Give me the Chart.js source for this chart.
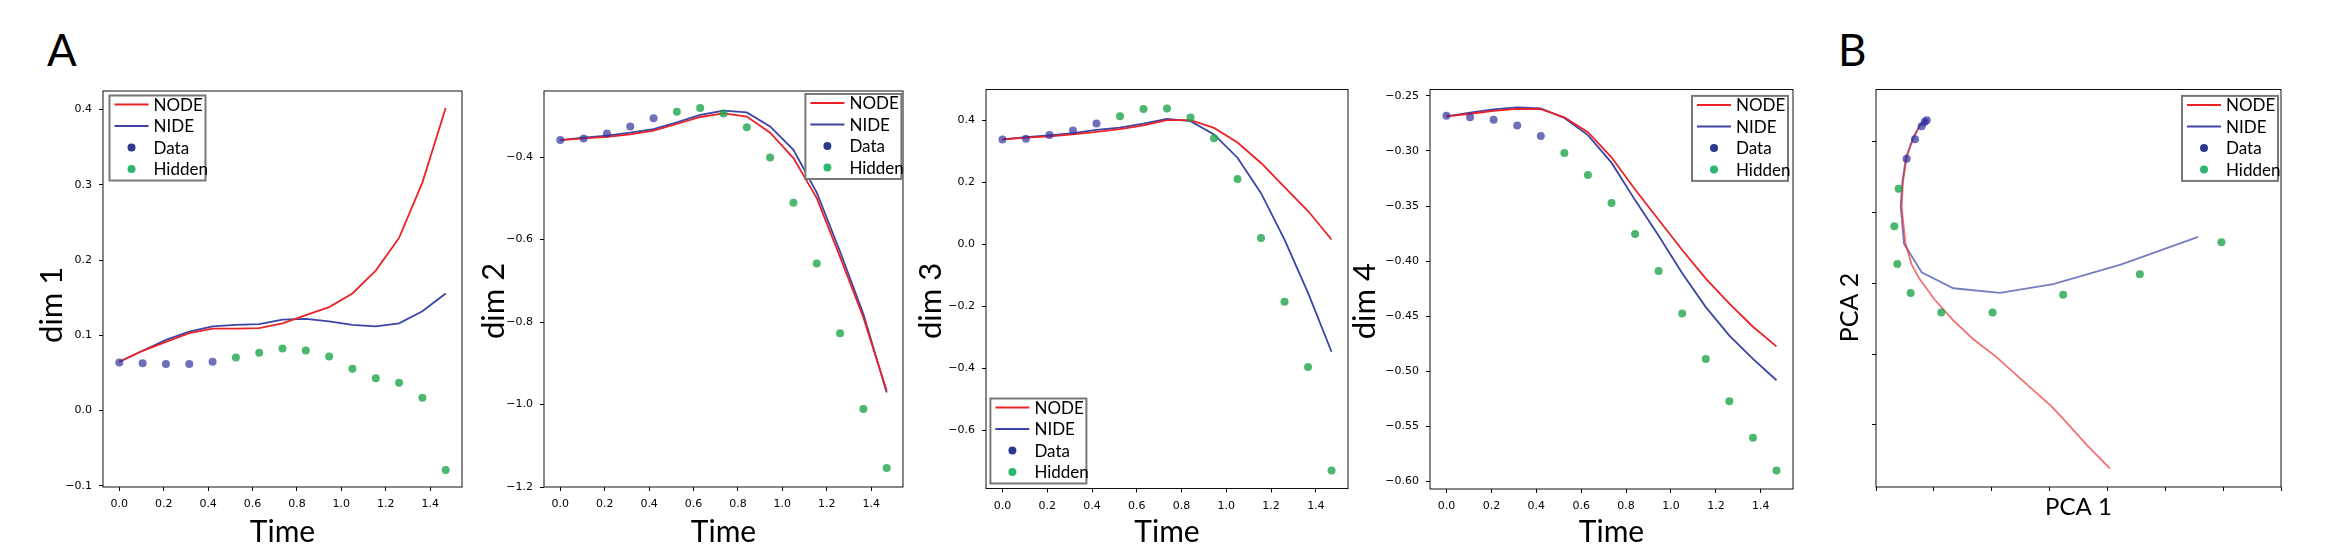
<!DOCTYPE html>
<html lang="en">
<head>
<meta charset="UTF-8">
<title>NODE vs NIDE trajectories</title>
<script src="https://cdn.jsdelivr.net/npm/chart.js"></script>
<style>
  body { margin: 0; background: #fff; width: 2346px; height: 560px; position: relative; overflow: hidden; font-family: Lato, sans-serif; }
  canvas { position: absolute; top: 0; }
  .tag { position: absolute; top: 27px; font-size: 44px; line-height: 1; color: #000; }
</style>
</head>
<body>
<div class="tag" style="left:47px">A</div>
<div class="tag" style="left:1838px">B</div>
<canvas id="dim1"></canvas>
<canvas id="dim2"></canvas>
<canvas id="dim3"></canvas>
<canvas id="dim4"></canvas>
<canvas id="pca"></canvas>

<script>
// ---- data ----
const seriesNames = ['NODE', 'NIDE', 'Data', 'Hidden'];
const time = [0.0, 0.105, 0.21, 0.315, 0.42, 0.525, 0.63, 0.735, 0.84, 0.945, 1.05, 1.155, 1.26, 1.365, 1.47];
const nObserved = 5; // first 5 time points are "Data", the rest "Hidden"

const dim1Data   = [0.064, 0.063, 0.062, 0.062, 0.065];
const dim1Hidden = [0.0705, 0.077, 0.0824, 0.080, 0.0719, 0.0557, 0.0429, 0.0371, 0.0171, -0.079];
const dim1Node   = [0.065, 0.0795, 0.0914, 0.103, 0.109, 0.109, 0.1095, 0.116, 0.127, 0.1376, 0.1557, 0.186, 0.2295, 0.303, 0.402];
const dim1Nide   = [0.065, 0.0795, 0.094, 0.105, 0.112, 0.114, 0.115, 0.121, 0.122, 0.1186, 0.114, 0.112, 0.116, 0.132, 0.1557];

const dim2Data   = [-0.359, -0.355, -0.343, -0.326, -0.306];
const dim2Hidden = [-0.290, -0.2815, -0.2945, -0.328, -0.401, -0.511, -0.658, -0.827, -1.011, -1.154];
const dim2Node   = [-0.359, -0.355, -0.351, -0.345, -0.336, -0.320, -0.303, -0.2945, -0.302, -0.341, -0.4026, -0.4995, -0.642, -0.789, -0.9666];
const dim2Nide   = [-0.359, -0.353, -0.348, -0.341, -0.3325, -0.316, -0.298, -0.2875, -0.292, -0.326, -0.3827, -0.4865, -0.629, -0.7806, -0.971];

const dim3Data   = [0.339, 0.341, 0.353, 0.368, 0.390];
const dim3Hidden = [0.414, 0.437, 0.439, 0.410, 0.3425, 0.2115, 0.0207, -0.185, -0.395, -0.729];
const dim3Node   = [0.339, 0.345, 0.349, 0.355, 0.363, 0.372, 0.384, 0.401, 0.401, 0.376, 0.329, 0.263, 0.185, 0.108, 0.016];
const dim3Nide   = [0.339, 0.346, 0.352, 0.359, 0.370, 0.377, 0.390, 0.405, 0.398, 0.355, 0.280, 0.1655, 0.016, -0.156, -0.346];

const dim4Data   = [-0.2681, -0.2694, -0.2717, -0.2769, -0.2863];
const dim4Hidden = [-0.3018, -0.3219, -0.3472, -0.3753, -0.4090, -0.4475, -0.4887, -0.5272, -0.5602, -0.5900];
const dim4Node   = [-0.2685, -0.2662, -0.2636, -0.2617, -0.262, -0.2694, -0.283, -0.3057, -0.3349, -0.3624, -0.3899, -0.4158, -0.4385, -0.4595, -0.4773];
const dim4Nide   = [-0.2685, -0.2652, -0.2623, -0.2604, -0.2613, -0.2701, -0.2856, -0.3106, -0.3446, -0.3769, -0.4109, -0.4417, -0.4676, -0.4887, -0.5081];

// PCA projection (arbitrary units, axes carry no tick labels)
const pcaNodeX = [0.864, 0.760, 0.645, 0.530, 0.466, 0.443, 0.507, 0.616, 0.748, 1.019, 1.336, 1.681, 2.084, 2.631, 3.034, 3.264, 3.638, 4.041];
const pcaNodeY = [5.297, 5.226, 5.050, 4.774, 4.421, 4.079, 3.566, 3.264, 3.063, 2.761, 2.474, 2.208, 1.956, 1.553, 1.262, 1.060, 0.723, 0.386];
const pcaNideX = [0.864, 0.760, 0.645, 0.518, 0.455, 0.426, 0.484, 0.789, 1.336, 2.142, 3.063, 4.243, 5.567];
const pcaNideY = [5.297, 5.226, 5.050, 4.774, 4.421, 4.079, 3.556, 3.153, 2.927, 2.862, 2.987, 3.264, 3.652];
const pcaDataX = [0.876, 0.840, 0.789, 0.674, 0.530];
const pcaDataY = [5.297, 5.270, 5.213, 5.030, 4.752];
const pcaHiddenX = [0.391, 0.317, 0.368, 0.599, 1.128, 2.015, 3.235, 4.560, 5.970];
const pcaHiddenY = [4.331, 3.803, 3.270, 2.862, 2.585, 2.585, 2.836, 3.123, 3.576];

// tick values
const timeTicks = [0.0, 0.2, 0.4, 0.6, 0.8, 1.0, 1.2, 1.4];
const dim1Ticks = [-0.1, 0.0, 0.1, 0.2, 0.3, 0.4];
const dim2Ticks = [-1.2, -1.0, -0.8, -0.6, -0.4];
const dim3Ticks = [-0.6, -0.4, -0.2, 0.0, 0.2, 0.4];
const dim4Ticks = [-0.60, -0.55, -0.50, -0.45, -0.40, -0.35, -0.30, -0.25];
const pcaXTicks = [0, 1, 2, 3, 4, 5, 6, 7];
const pcaYTicks = [1, 2, 3, 4, 5];

// ---- styling ----
const RED = '#ec2227', BLUE = '#3b45a5';
const DATA_PT = 'rgba(44,44,154,0.68)', HID_PT = 'rgba(30,165,75,0.8)';
const DATA_LEG = '#2b3a8f', HID_LEG = '#2cb672';
const tickFont = { family: 'DejaVu Sans', size: 11 };

const pts = (xs, ys) => xs.map((x, i) => ({ x: x, y: ys[i] }));
const fmt = (v, d) => v.toFixed(d).replace('-', '\u2212');

// plot frame + boxed legend drawn inside the plot area
const frameLegend = {
  id: 'frameLegend',
  afterDatasetsDraw(chart, args, o) {
    const { ctx, chartArea: a } = chart;
    ctx.save();
    ctx.strokeStyle = '#111';
    ctx.lineWidth = 1;
    ctx.strokeRect(a.left, a.top, a.right - a.left, a.bottom - a.top);

    const w = 96, h = 85;
    const x = o.corner[1] === 'r' ? a.right - o.gx - w : a.left + o.gx;
    const y = o.corner[0] === 'b' ? a.bottom - o.gy - h : a.top + o.gy;
    ctx.fillStyle = '#fff';
    ctx.fillRect(x, y, w, h);
    ctx.strokeStyle = '#777';
    ctx.lineWidth = 2;
    ctx.strokeRect(x, y, w, h);

    const rows = [9, 30.5, 52, 73.5];
    const cols = [RED, BLUE, DATA_LEG, HID_LEG];
    ctx.font = '17px Lato';
    ctx.textBaseline = 'middle';
    seriesNames.forEach((name, i) => {
      const cy = y + rows[i];
      if (i < 2) {
        ctx.strokeStyle = cols[i];
        ctx.lineWidth = 2;
        ctx.beginPath();
        ctx.moveTo(x + 5, cy);
        ctx.lineTo(x + 39, cy);
        ctx.stroke();
      } else {
        ctx.fillStyle = cols[i];
        ctx.beginPath();
        ctx.arc(x + 22, cy, 4, 0, Math.PI * 2);
        ctx.fill();
      }
      ctx.fillStyle = '#000';
      ctx.fillText(name, x + 44, cy + 1);
    });
    ctx.restore();
  }
};

function makePanel(id, box, cfg) {
  const canvasLeft = box.left - 85;
  const canvasRight = box.right + 12;
  const el = document.getElementById(id);
  el.width = Math.round(canvasRight - canvasLeft);
  el.height = 560;
  el.style.left = canvasLeft + 'px';

  // the y title sits a little below the axis middle in the original;
  // trailing spaces push the centred, rotated text down
  const yTitleText = cfg.yTitle + ' '.repeat(cfg.yTitleShift);

  new Chart(el, {
    type: 'scatter',
    data: {
      datasets: [
        { label: seriesNames[2], data: cfg.data, backgroundColor: cfg.dataColor || DATA_PT,
          borderWidth: 0, pointRadius: 4, order: 0 },
        { label: seriesNames[3], data: cfg.hidden, backgroundColor: HID_PT,
          borderWidth: 0, pointRadius: 4, order: 0 },
        { label: seriesNames[0], data: cfg.node, showLine: true, borderColor: cfg.nodeColor || RED,
          borderWidth: 1.8, pointRadius: 0, tension: 0, order: 1 },
        { label: seriesNames[1], data: cfg.nide, showLine: true, borderColor: cfg.nideColor || BLUE,
          borderWidth: 1.8, pointRadius: 0, tension: 0, order: 1 }
      ]
    },
    options: {
      responsive: false,
      animation: false,
      events: [],
      layout: { padding: { left: 0, right: canvasRight - box.right, top: box.top, bottom: 0 } },
      plugins: {
        legend: { display: false },
        tooltip: { enabled: false },
        frameLegend: cfg.legend
      },
      scales: {
        x: {
          type: 'linear',
          min: cfg.xMin, max: cfg.xMax,
          afterBuildTicks: s => { s.ticks = cfg.xTicks.map(v => ({ value: v })); },
          afterFit: s => { s.height = 560 - box.bottom; },
          ticks: { callback: cfg.xLabel, font: tickFont, color: '#000', padding: 7, maxRotation: 0, autoSkip: false },
          grid: { drawOnChartArea: false, tickLength: 4, color: '#000' },
          border: { display: false },
          title: { display: true, text: cfg.xTitle, color: '#000',
                   font: { family: 'Lato', size: cfg.xTitleSize, lineHeight: 1 },
                   padding: { top: 0, bottom: 560 - cfg.xTitleSize / 2 - cfg.xTitleY } }
        },
        y: {
          type: 'linear',
          min: cfg.yMin, max: cfg.yMax,
          afterBuildTicks: s => { s.ticks = cfg.yTicks.map(v => ({ value: v })); },
          afterFit: s => { s.width = box.left - canvasLeft; },
          ticks: { callback: cfg.yLabel, font: tickFont, color: '#000', padding: 7, autoSkip: false },
          grid: { drawOnChartArea: false, tickLength: 4, color: '#000' },
          border: { display: false },
          title: { display: true, text: yTitleText, color: '#000',
                   font: { family: 'Lato', size: cfg.yTitleSize, lineHeight: 1 },
                   padding: { top: box.titleX - canvasLeft - cfg.yTitleSize / 2, bottom: 0 } }
        }
      }
    },
    plugins: [frameLegend]
  });
}

function timePanel(id, box, data, hidden, node, nide, yTicks, yMin, yMax, dec, title, shift, legend) {
  makePanel(id, box, {
    data: pts(time.slice(0, nObserved), data),
    hidden: pts(time.slice(nObserved), hidden),
    node: pts(time, node),
    nide: pts(time, nide),
    xMin: -0.0735, xMax: 1.5435, xTicks: timeTicks, xLabel: v => fmt(v, 1),
    yMin: yMin, yMax: yMax, yTicks: yTicks, yLabel: v => fmt(v, dec),
    xTitle: 'Time', yTitle: title, xTitleSize: 30, yTitleSize: 31, xTitleY: 532, yTitleShift: shift,
    legend: legend
  });
}

timePanel('dim1', { left: 102.7, right: 461.3, top: 91, bottom: 487, titleX: 52 },
  dim1Data, dim1Hidden, dim1Node, dim1Nide, dim1Ticks, -0.1015, 0.4247, 1, 'dim 1', 4,
  { corner: 'tl', gx: 6.5, gy: 4.5 });
timePanel('dim2', { left: 544.3, right: 903.3, top: 91, bottom: 487, titleX: 494 },
  dim2Data, dim2Hidden, dim2Node, dim2Nide, dim2Ticks, -1.2, -0.24, 1, 'dim 2', 3,
  { corner: 'tr', gx: 1.6, gy: 3 });
timePanel('dim3', { left: 986.3, right: 1348.3, top: 89.5, bottom: 488.5, titleX: 931.7 },
  dim3Data, dim3Hidden, dim3Node, dim3Nide, dim3Ticks, -0.787, 0.50, 1, 'dim 3', 3,
  { corner: 'bl', gx: 4.4, gy: 5 });
timePanel('dim4', { left: 1430.3, right: 1793.3, top: 89.5, bottom: 489, titleX: 1365 },
  dim4Data, dim4Hidden, dim4Node, dim4Nide, dim4Ticks, -0.6068, -0.2442, 2, 'dim 4', 3,
  { corner: 'tr', gx: 5, gy: 6.4 });

makePanel('pca', { left: 1876, right: 2281.3, top: 89.5, bottom: 487, titleX: 1849.7 }, {
  data: pts(pcaDataX, pcaDataY),
  hidden: pts(pcaHiddenX, pcaHiddenY),
  node: pts(pcaNodeX, pcaNodeY),
  nide: pts(pcaNideX, pcaNideY),
  dataColor: 'rgba(44,44,160,0.7)',
  nodeColor: 'rgba(236,34,39,0.65)',
  nideColor: 'rgba(59,69,165,0.7)',
  xMin: 0, xMax: 7, xTicks: pcaXTicks, xLabel: () => '',
  yMin: 0.1245, yMax: 5.73, yTicks: pcaYTicks, yLabel: () => '',
  xTitle: 'PCA 1', yTitle: 'PCA 2', xTitleSize: 24, yTitleSize: 25, xTitleY: 507, yTitleShift: 6,
  legend: { corner: 'tr', gx: 3, gy: 6.4 }
});
</script>
</body>
</html>
